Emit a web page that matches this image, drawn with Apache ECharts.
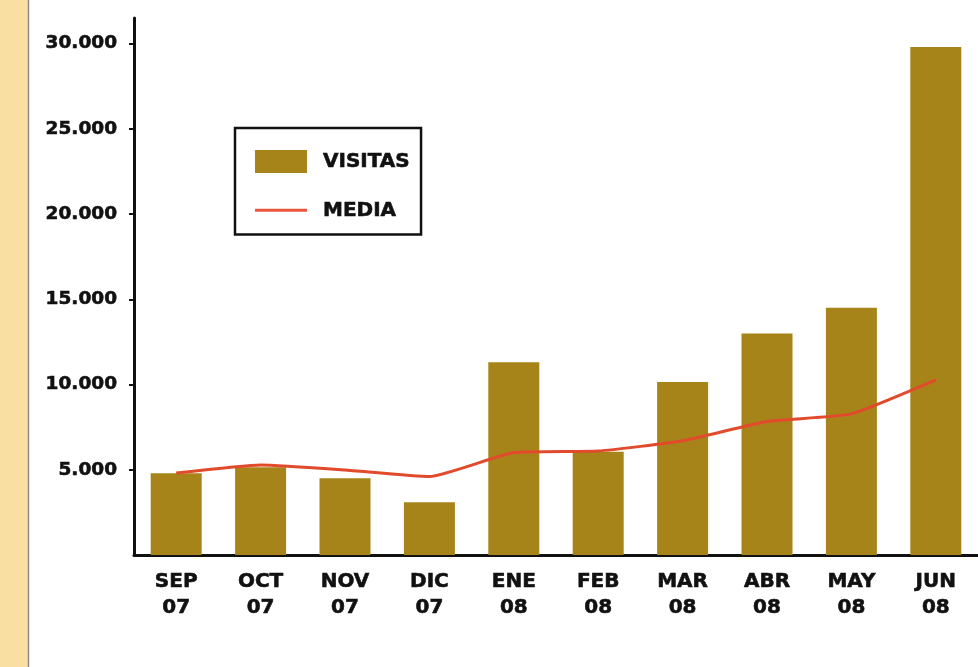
<!DOCTYPE html>
<html>
<head>
<meta charset="utf-8">
<script src="https://cdn.jsdelivr.net/npm/echarts@6/dist/echarts.min.js"></script>
<style>
html,body{margin:0;padding:0;background:#fff;}
#c{width:978px;height:667px;}
</style>
</head>
<body>
<div id="c"></div>
<script>
var categories = ['SEP\n07','OCT\n07','NOV\n07','DIC\n07','ENE\n08','FEB\n08','MAR\n08','ABR\n08','MAY\n08','JUN\n08'];
var visitas = [4800, 5150, 4500, 3100, 11300, 6050, 10150, 13000, 14500, 29800];
var media = [4810, 5280, 4990, 4600, 6010, 6100, 6700, 7830, 8280, 10270];
var yTicks = [5000, 10000, 15000, 20000, 25000, 30000];

var FONT = '"DejaVu Sans", sans-serif';
function fmt(v){
  if (v === 0 || v % 5000 !== 0) return '';
  return String(v).replace(/\B(?=(\d{3})+(?!\d))/g, '.');
}
var chart = echarts.init(document.getElementById('c'), null, {renderer:'canvas'});
chart.setOption({
  backgroundColor: '#ffffff',
  animation: false,
  graphic: [
    {type:'rect', shape:{x:0, y:0, width:28, height:667}, style:{fill:'#FADFA3'}, z:0},
    {type:'line', shape:{x1:28.5, y1:0, x2:28.5, y2:667}, style:{stroke:'#8a8a8a', lineWidth:1.5}, z:0}
  ],
  grid: {left:134, right:-7, top:18, bottom:112, containLabel:false},
  legend: {
    orient:'vertical', left:235, top:128,
    padding:[22, 11, 14, 20],
    borderColor:'#111', borderWidth:2.5,
    itemWidth:52, itemHeight:23, itemGap:27,
    symbolKeepAspect:true,
    textStyle:{fontFamily:FONT, fontWeight:'bold', fontSize:20, color:'#111', padding:[0,0,0,11], textBorderColor:'#111', textBorderWidth:0.6},
    data:[
      {name:'VISITAS', icon:'rect'},
      {name:'MEDIA', icon:'path://M0,0 L52,0 L52,3 L0,3 Z', itemStyle:{color:'#E8553D'}}
    ]
  },
  xAxis: {
    type:'category', data:categories,
    axisLine:{show:true, lineStyle:{color:'#111', width:3}},
    axisTick:{show:false},
    axisLabel:{fontFamily:FONT, fontWeight:'bold', fontSize:20, color:'#111', lineHeight:26, margin:14, interval:0, textBorderColor:'#111', textBorderWidth:0.6}
  },
  yAxis: {
    type:'value', min:0, max:31500, interval:5000,
    splitLine:{show:false},
    axisLine:{show:true, lineStyle:{color:'#111', width:3}},
    axisTick:{show:true, length:5, lineStyle:{color:'#111', width:2}, customValues: yTicks},
    axisLabel:{fontFamily:FONT, fontWeight:'bold', fontSize:18.5, color:'#111', margin:17, formatter: fmt, customValues: yTicks, textBorderColor:'#111', textBorderWidth:0.6}
  },
  series: [
    {name:'VISITAS', type:'bar', data:visitas, barWidth:51, itemStyle:{color:'#A68419'}, z:2},
    {name:'MEDIA', type:'line', data:media, symbol:'none', smooth:0.15, lineStyle:{color:'#E24A2C', width:3}, itemStyle:{color:'#E24A2C'}, z:3}
  ]
});
</script>
</body>
</html>
